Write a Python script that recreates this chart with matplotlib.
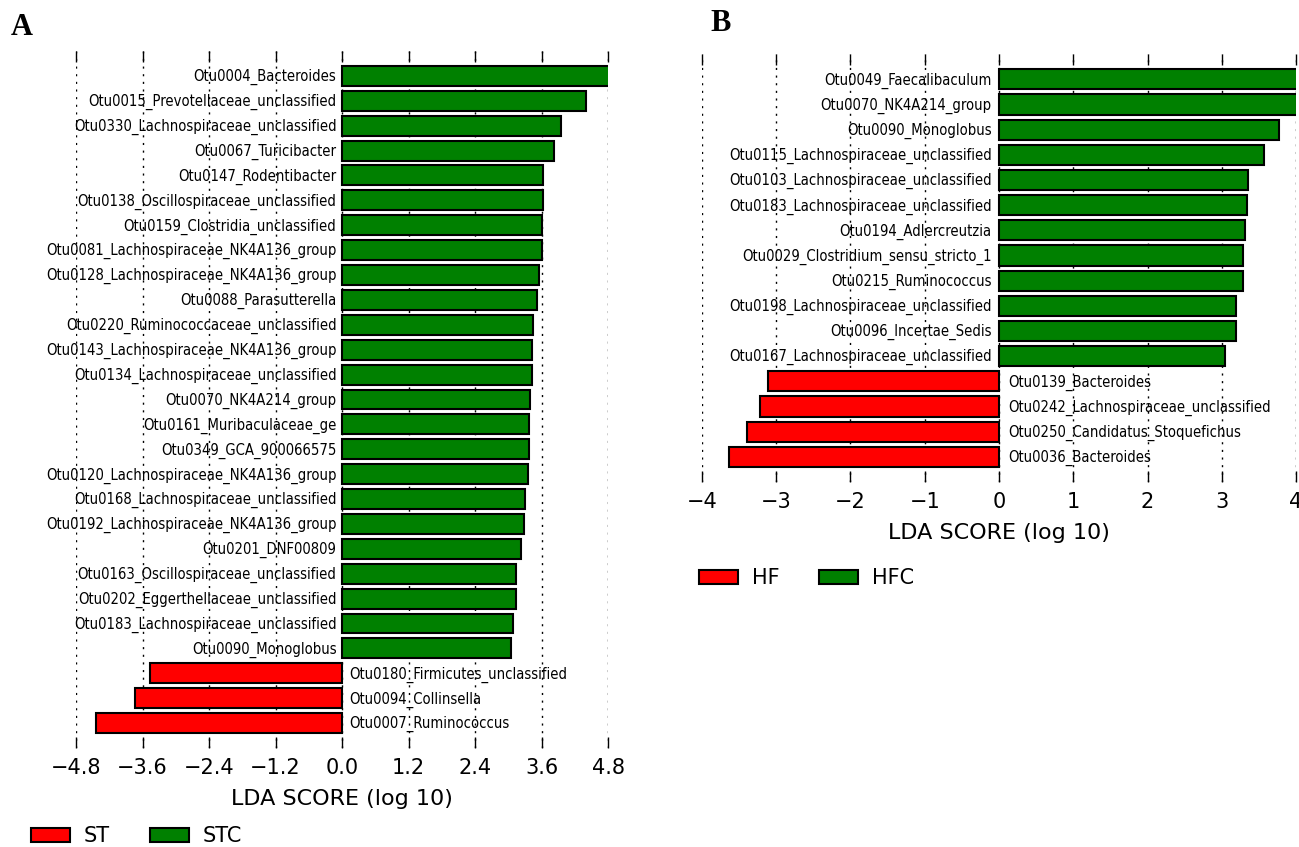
import numpy as np
import matplotlib
matplotlib.use("Agg")
import matplotlib.pyplot as plt
from matplotlib.patches import Patch

# panel A: ST vs STC
names_a = ["Otu0004_Bacteroides", "Otu0015_Prevotellaceae_unclassified",
           "Otu0330_Lachnospiraceae_unclassified", "Otu0067_Turicibacter",
           "Otu0147_Rodentibacter", "Otu0138_Oscillospiraceae_unclassified",
           "Otu0159_Clostridia_unclassified", "Otu0081_Lachnospiraceae_NK4A136_group",
           "Otu0128_Lachnospiraceae_NK4A136_group", "Otu0088_Parasutterella",
           "Otu0220_Ruminococcaceae_unclassified", "Otu0143_Lachnospiraceae_NK4A136_group",
           "Otu0134_Lachnospiraceae_unclassified", "Otu0070_NK4A214_group",
           "Otu0161_Muribaculaceae_ge", "Otu0349_GCA_900066575",
           "Otu0120_Lachnospiraceae_NK4A136_group", "Otu0168_Lachnospiraceae_unclassified",
           "Otu0192_Lachnospiraceae_NK4A136_group", "Otu0201_DNF00809",
           "Otu0163_Oscillospiraceae_unclassified", "Otu0202_Eggerthellaceae_unclassified",
           "Otu0183_Lachnospiraceae_unclassified", "Otu0090_Monoglobus",
           "Otu0180_Firmicutes_unclassified", "Otu0094_Collinsella",
           "Otu0007_Ruminococcus"]
scores_a = [4.83, 4.41, 3.95, 3.83, 3.62, 3.62, 3.60, 3.60, 3.56, 3.51,
            3.44, 3.42, 3.42, 3.40, 3.38, 3.37, 3.35, 3.30, 3.29, 3.23,
            3.14, 3.14, 3.09, 3.04, -3.46, -3.73, -4.43]
groups_a = ["ST", "STC"]
ticks_a = [-4.8, -3.6, -2.4, -1.2, 0.0, 1.2, 2.4, 3.6, 4.8]

# panel B: HF vs HFC
names_b = ["Otu0049_Faecalibaculum", "Otu0070_NK4A214_group", "Otu0090_Monoglobus",
           "Otu0115_Lachnospiraceae_unclassified", "Otu0103_Lachnospiraceae_unclassified",
           "Otu0183_Lachnospiraceae_unclassified", "Otu0194_Adlercreutzia",
           "Otu0029_Clostridium_sensu_stricto_1", "Otu0215_Ruminococcus",
           "Otu0198_Lachnospiraceae_unclassified", "Otu0096_Incertae_Sedis",
           "Otu0167_Lachnospiraceae_unclassified", "Otu0139_Bacteroides",
           "Otu0242_Lachnospiraceae_unclassified", "Otu0250_Candidatus_Stoquefichus",
           "Otu0036_Bacteroides"]
scores_b = [4.08, 4.01, 3.77, 3.57, 3.35, 3.34, 3.31, 3.29, 3.28, 3.19, 3.19,
            3.05, -3.11, -3.22, -3.39, -3.63]
groups_b = ["HF", "HFC"]
ticks_b = [-4, -3, -2, -1, 0, 1, 2, 3, 4]

RED = "#ff0000"
GREEN = "#008000"
plt.rcParams['font.family'] = ['DejaVu Sans']


def lefse_panel(ax, names, scores, ticks, xlim, tick_fmt):
    n = len(names)
    y = np.arange(n)[::-1]
    colors = [RED if s < 0 else GREEN for s in scores]
    ax.barh(y, scores, height=0.8, color=colors, edgecolor="black", linewidth=1.5,
            zorder=2)
    # taxon names sit next to the zero line, on the side away from the bar
    for yi, name, s in zip(y, names, scores):
        if s >= 0:
            ax.text(-0.1, yi - 0.05, name, ha="right", va="center", fontsize=10.6,
                    fontstretch="condensed")
        else:
            ax.text(0.13, yi - 0.05, name, ha="left", va="center", fontsize=10.6,
                    fontstretch="condensed")
    ax.set_xlim(*xlim)
    ax.set_ylim(-1, n)
    ax.set_xticks(ticks)
    ax.set_xticklabels([tick_fmt(t) for t in ticks], fontsize=15)
    ax.set_yticks([])
    for sp in ax.spines.values():
        sp.set_visible(False)
    ax.tick_params(axis="x", top=True, bottom=True, direction="in", length=8,
                   width=1, pad=7)
    ax.grid(axis="x", linestyle=(0, (1.5, 4)), color="black", linewidth=1.0, zorder=0)
    ax.set_axisbelow(True)
    ax.set_xlabel("LDA SCORE (log 10)", fontsize=16, labelpad=8)


fig = plt.figure(figsize=(12.99, 8.47), dpi=100)
ax_a = fig.add_axes([0.0585, 0.1169, 0.4096, 0.8229])
ax_b = fig.add_axes([0.5404, 0.431, 0.4573, 0.505])

lefse_panel(ax_a, names_a, scores_a, ticks_a, (-4.8, 4.8),
            lambda t: f"{t:.1f}".replace("-", "\u2212"))
lefse_panel(ax_b, names_b, scores_b, ticks_b, (-4, 4),
            lambda t: f"{t}".replace("-", "\u2212"))

for groups, anchor in [(groups_a, (31 / 1299, 1 - 836 / 847)),
                       (groups_b, (699 / 1299, 1 - 578 / 847))]:
    handles = [Patch(facecolor=RED, edgecolor="black", linewidth=1.5, label=groups[0]),
               Patch(facecolor=GREEN, edgecolor="black", linewidth=1.5, label=groups[1])]
    fig.legend(handles=handles, loc="center left", bbox_to_anchor=anchor, ncol=2,
               frameon=False, fontsize=15, handlelength=1.87, handleheight=0.67,
               columnspacing=1.9, handletextpad=0.67, borderpad=0, borderaxespad=0)

fig.text(0.008, 0.968, "A", fontsize=22, fontweight="bold", family="Liberation Serif",
         ha="left", va="center")
fig.text(0.547, 0.972, "B", fontsize=22, fontweight="bold", family="Liberation Serif",
         ha="left", va="center")

fig.savefig("out.png", dpi=100)
